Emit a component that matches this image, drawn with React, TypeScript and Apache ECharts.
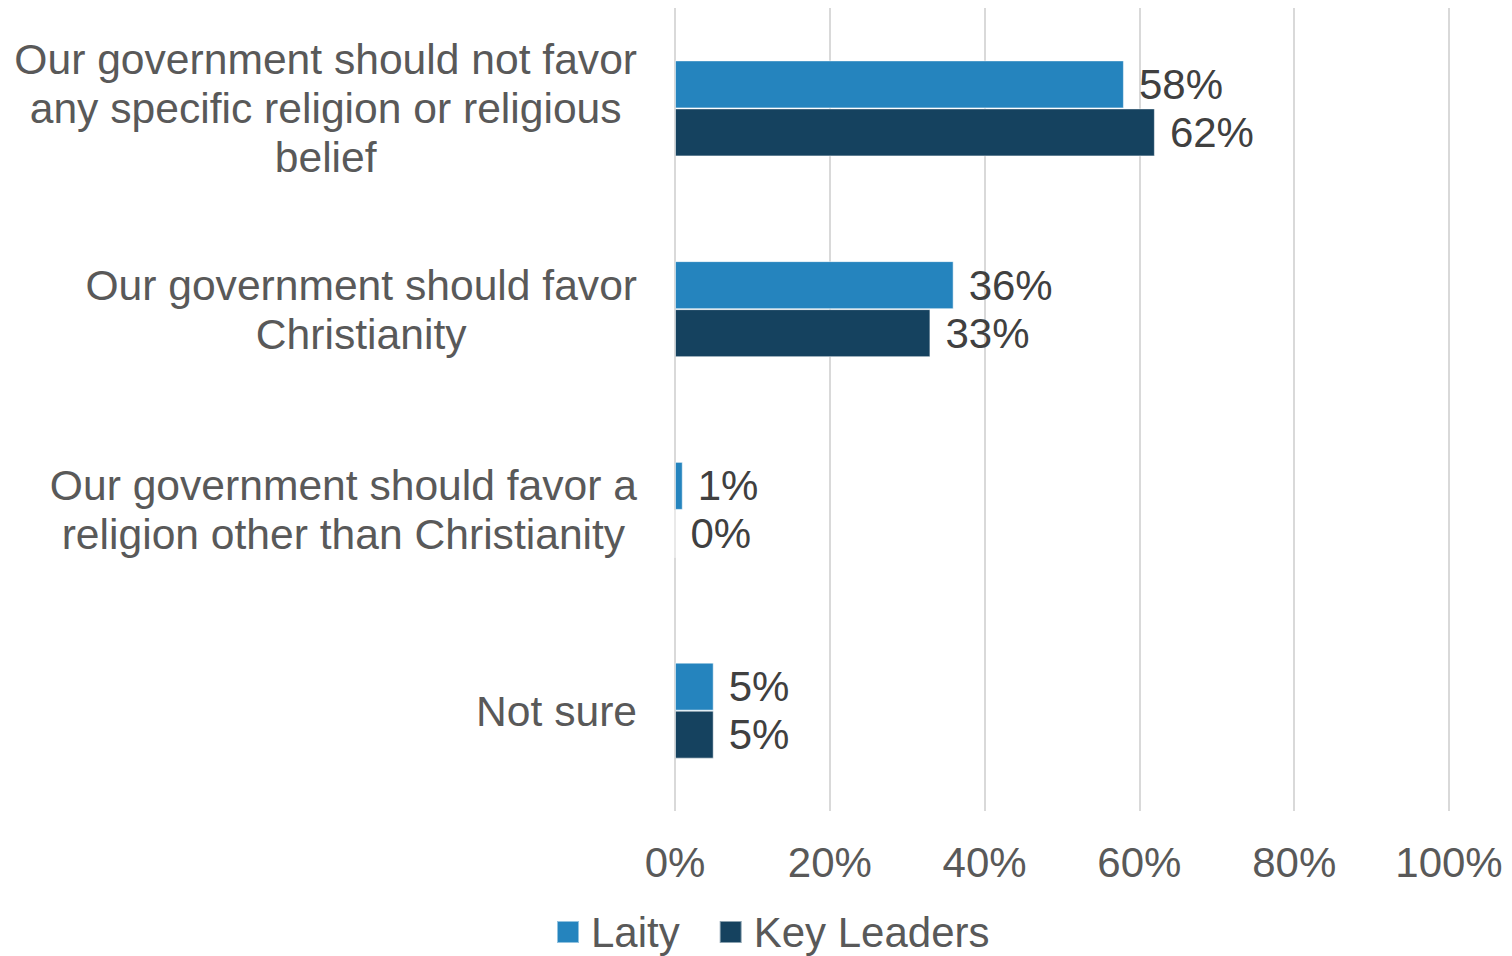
import React, { useEffect, useRef } from "react";
import * as echarts from "echarts";

const categories: string[] = [
  "Our government should not favor\nany specific religion or religious\nbelief",
  "Our government should favor\nChristianity",
  "Our government should favor a\nreligion other than Christianity",
  "Not sure",
];
const laity: number[] = [58, 36, 1, 5];
const keyLeaders: number[] = [62, 33, 0, 5];
const seriesNames: string[] = ["Laity", "Key Leaders"];
const xTicks: number[] = [0, 20, 40, 60, 80, 100];

const FONT = "'Liberation Sans', Arial, sans-serif";

export default function App() {
  const ref = useRef<HTMLDivElement>(null);
  useEffect(() => {
    if (!ref.current) return;
    const chart = echarts.init(ref.current, undefined, { renderer: "svg" });
    const labelStyle = {
      show: true,
      position: "right" as const,
      distance: 15,
      formatter: "{c}%",
      color: "#404040",
      fontSize: 42,
      fontFamily: FONT,
    };
    chart.setOption({
      animation: false,
      backgroundColor: "#ffffff",
      textStyle: { fontFamily: FONT },
      grid: { left: 675, right: 63, top: 8, bottom: 145, containLabel: false },
      legend: {
        data: seriesNames,
        left: 556,
        top: 911,
        padding: 0,
        icon: "rect",
        itemWidth: 22,
        itemHeight: 22,
        itemGap: 39,
        textStyle: { fontSize: 42, color: "#595959", fontFamily: FONT, padding: [0, 0, 0, 7] },
      },
      xAxis: {
        type: "value",
        min: 0,
        max: 100,
        interval: 20,
        axisLine: { show: false },
        axisTick: { show: false },
        splitLine: { show: true, lineStyle: { color: "#d9d9d9", width: 2 } },
        axisLabel: {
          formatter: (v: number) => (xTicks.includes(v) ? v + "%" : ""),
          fontSize: 42,
          color: "#595959",
          fontFamily: FONT,
          margin: 30,
        },
      },
      yAxis: {
        type: "category",
        data: categories,
        inverse: true,
        axisLine: { show: false },
        axisTick: { show: false },
        splitLine: { show: false },
        axisLabel: {
          margin: 38,
          fontSize: 42.6,
          lineHeight: 49,
          color: "#595959",
          fontFamily: FONT,
          align: "right",
          formatter: (val: string) =>
            val
              .split("\n")
              .map((l) => "{c|" + l + "}")
              .join("\n"),
          rich: {
            c: {
              align: "center",
              fontSize: 42.6,
              lineHeight: 49,
              color: "#595959",
              fontFamily: FONT,
            },
          },
        },
      },
      series: [
        {
          name: seriesNames[0],
          type: "bar",
          data: laity,
          barWidth: 48,
          barGap: "0%",
          itemStyle: { color: "#2584be", borderColor: "rgba(255,255,255,0.5)", borderWidth: 1 },
          label: labelStyle,
        },
        {
          name: seriesNames[1],
          type: "bar",
          data: keyLeaders,
          barWidth: 48,
          barGap: "0%",
          itemStyle: { color: "#15425f", borderColor: "rgba(255,255,255,0.5)", borderWidth: 1 },
          label: labelStyle,
        },
      ],
    });
    return () => chart.dispose();
  }, []);
  return (
    <div
      ref={ref}
      style={{ position: "fixed", left: 0, top: 0, width: 1512, height: 956 }}
    />
  );
}
